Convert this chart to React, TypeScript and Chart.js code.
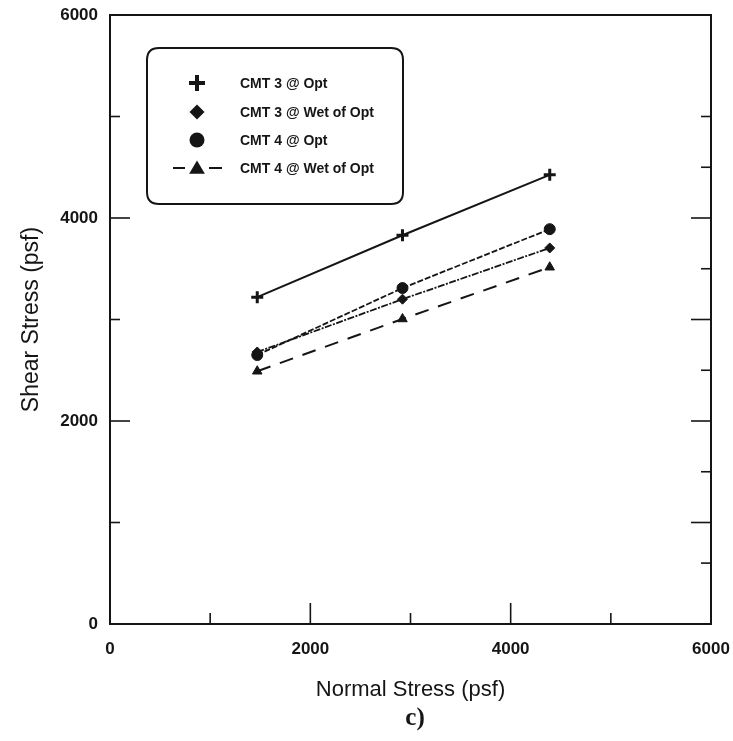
import React, { useEffect, useRef } from 'react';
import { Chart, registerables } from 'chart.js';

Chart.register(...registerables);

// ---- data ----
const normalStress = [1470, 2920, 4390];
const cmt3Opt = [3220, 3830, 4425];
const cmt3Wet = [2680, 3200, 3705];
const cmt4Opt = [2650, 3310, 3890];
const cmt4Wet = [2490, 3005, 3515];
const seriesLabels = ['CMT 3 @ Opt', 'CMT 3 @ Wet of Opt', 'CMT 4 @ Opt', 'CMT 4 @ Wet of Opt'];
const majorTicks = [0, 2000, 4000, 6000];
const minorTicks = [1000, 3000, 5000];
const rightMajorTicks = [4000, 3000, 2000, 1000];
const rightMinorTicks = [5000, 4500, 3500, 2500, 1500, 600];

const INK = '#151515';

const toPoints = (ys: number[]) => normalStress.map((x, i) => ({ x, y: ys[i] }));

function drawMarker(ctx: CanvasRenderingContext2D, style: string, x: number, y: number, r: number) {
  ctx.beginPath();
  if (style === 'cross') {
    ctx.moveTo(x - r, y);
    ctx.lineTo(x + r, y);
    ctx.moveTo(x, y - r);
    ctx.lineTo(x, y + r);
    ctx.stroke();
    return;
  }
  if (style === 'rectRot') {
    ctx.moveTo(x, y - r);
    ctx.lineTo(x + r, y);
    ctx.lineTo(x, y + r);
    ctx.lineTo(x - r, y);
    ctx.closePath();
  } else if (style === 'circle') {
    ctx.arc(x, y, r, 0, Math.PI * 2);
  } else if (style === 'triangle') {
    ctx.moveTo(x, y - r);
    ctx.lineTo(x + r * 1.05, y + r * 0.75);
    ctx.lineTo(x - r * 1.05, y + r * 0.75);
    ctx.closePath();
  }
  ctx.fill();
}

const decorPlugin = {
  id: 'decor',
  afterDraw(chart: any) {
    const { ctx, chartArea } = chart;
    const { left, right, top, bottom } = chartArea;
    const xs = chart.scales.x;
    const ys = chart.scales.y;
    ctx.save();
    ctx.strokeStyle = INK;
    ctx.lineWidth = 2;
    ctx.strokeRect(left, top, right - left, bottom - top);

    ctx.lineWidth = 1.6;
    const seg = (x1: number, y1: number, x2: number, y2: number) => {
      ctx.beginPath();
      ctx.moveTo(x1, y1);
      ctx.lineTo(x2, y2);
      ctx.stroke();
    };
    // bottom inward ticks
    [...majorTicks.slice(1, -1), ...minorTicks].forEach((v) => {
      const px = xs.getPixelForValue(v);
      const len = v % 2000 === 0 ? 21 : 11;
      seg(px, bottom, px, bottom - len);
    });
    // left inward ticks
    [...majorTicks.slice(1, -1), ...minorTicks].forEach((v) => {
      const py = ys.getPixelForValue(v);
      const len = v % 2000 === 0 ? 20 : 10;
      seg(left, py, left + len, py);
    });
    // right inward ticks
    rightMajorTicks.forEach((v) => {
      const py = ys.getPixelForValue(v);
      seg(right, py, right - 20, py);
    });
    rightMinorTicks.forEach((v) => {
      const py = ys.getPixelForValue(v);
      seg(right, py, right - 10, py);
    });

    // legend box
    const bx = 147, by = 48, bw = 256, bh = 156, r = 12;
    ctx.lineWidth = 2;
    ctx.beginPath();
    ctx.moveTo(bx + r, by);
    ctx.lineTo(bx + bw - r, by);
    ctx.quadraticCurveTo(bx + bw, by, bx + bw, by + r);
    ctx.lineTo(bx + bw, by + bh - r);
    ctx.quadraticCurveTo(bx + bw, by + bh, bx + bw - r, by + bh);
    ctx.lineTo(bx + r, by + bh);
    ctx.quadraticCurveTo(bx, by + bh, bx, by + bh - r);
    ctx.lineTo(bx, by + r);
    ctx.quadraticCurveTo(bx, by, bx + r, by);
    ctx.stroke();

    const rows = [83, 112, 140, 168];
    const mx = 197;
    ctx.font = 'bold 14px "Liberation Sans", Arial, sans-serif';
    ctx.textBaseline = 'middle';
    ctx.textAlign = 'left';
    chart.data.datasets.forEach((ds: any, i: number) => {
      const y = rows[i];
      ctx.strokeStyle = INK;
      if (i === 3) {
        ctx.lineWidth = 2;
        seg(173, y, 185, y);
        seg(209, y, 222, y);
      }
      ctx.fillStyle = INK;
      ctx.lineWidth = ds.pointStyle === 'cross' ? 4 : 1;
      drawMarker(ctx, ds.pointStyle, mx, y, ds.pointStyle === 'cross' ? 8 : 7.5);
      ctx.fillText(ds.label, 240, y + 1);
    });

    // panel caption
    ctx.font = 'bold 25px "Liberation Serif", "Times New Roman", serif';
    ctx.textAlign = 'center';
    ctx.fillStyle = INK;
    ctx.fillText('c)', 415, 719);
    ctx.restore();
  },
};

export default function App() {
  const ref = useRef<HTMLCanvasElement | null>(null);
  useEffect(() => {
    if (!ref.current) return;
    const tickFont = { family: '"Liberation Sans", Arial, sans-serif', size: 17, weight: 'bold' as const };
    const titleFont = { family: '"Liberation Sans", Arial, sans-serif', size: 22, weight: 'normal' as const };
    const chart = new Chart(ref.current, {
      type: 'scatter',
      data: {
        datasets: [
          {
            label: seriesLabels[0],
            data: toPoints(cmt3Opt),
            showLine: true,
            borderColor: INK,
            backgroundColor: INK,
            borderWidth: 2,
            pointStyle: 'cross',
            pointRadius: 6,
            pointBorderWidth: 3,
          },
          {
            label: seriesLabels[1],
            data: toPoints(cmt3Wet),
            showLine: true,
            borderColor: INK,
            backgroundColor: INK,
            borderWidth: 1.8,
            borderDash: [7, 1.5, 2, 1.5],
            pointStyle: 'rectRot',
            pointRadius: 5,
            pointBorderWidth: 1,
          },
          {
            label: seriesLabels[2],
            data: toPoints(cmt4Opt),
            showLine: true,
            borderColor: INK,
            backgroundColor: INK,
            borderWidth: 1.8,
            borderDash: [6, 2],
            pointStyle: 'circle',
            pointRadius: 5.5,
            pointBorderWidth: 1,
          },
          {
            label: seriesLabels[3],
            data: toPoints(cmt4Wet),
            showLine: true,
            borderColor: INK,
            backgroundColor: INK,
            borderWidth: 2,
            borderDash: [14, 10],
            pointStyle: 'triangle',
            pointRadius: 5.5,
            pointBorderWidth: 1,
          },
        ],
      },
      options: {
        responsive: false,
        animation: false,
        layout: { padding: { left: 0, right: 22, top: 15, bottom: 0 } },
        plugins: {
          legend: { display: false },
          tooltip: { enabled: false },
        },
        scales: {
          x: {
            type: 'linear',
            min: 0,
            max: 6000,
            grid: { display: false },
            border: { display: false },
            ticks: {
              stepSize: 2000,
              color: INK,
              font: tickFont,
              padding: 7,
              maxRotation: 0,
              callback: (v: any) => (majorTicks.includes(Number(v)) ? String(v) : ''),
            },
            title: {
              display: true,
              text: 'Normal Stress (psf)',
              color: INK,
              font: titleFont,
              padding: { top: 0, bottom: 38 },
            },
            afterFit: (s: any) => {
              s.height = 117;
              s.paddingLeft = 0;
              s.paddingRight = 0;
            },
          },
          y: {
            type: 'linear',
            min: 0,
            max: 6000,
            grid: { display: false },
            border: { display: false },
            ticks: {
              stepSize: 2000,
              color: INK,
              font: tickFont,
              padding: 4,
              callback: (v: any) => (majorTicks.includes(Number(v)) ? String(v) : ''),
            },
            title: {
              display: true,
              text: 'Shear Stress (psf)',
              color: INK,
              font: { ...titleFont, size: 23 },
              padding: { top: 18, bottom: 0 },
            },
            afterFit: (s: any) => {
              s.width = 110;
              s.paddingTop = 0;
              s.paddingBottom = 0;
            },
          },
        },
      },
      plugins: [decorPlugin],
    });
    return () => chart.destroy();
  }, []);

  return (
    <div style={{ position: 'absolute', left: 0, top: 0, width: 733, height: 741, background: '#fff' }}>
      <canvas ref={ref} width={733} height={741} style={{ display: 'block' }} />
    </div>
  );
}
